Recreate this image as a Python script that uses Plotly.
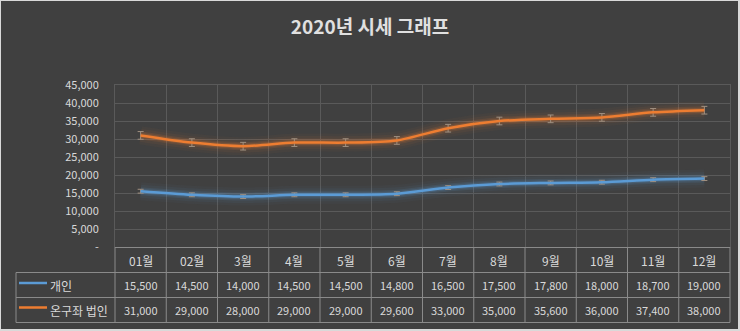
import numpy as np
import plotly.graph_objects as go

# ---------------- data ----------------
months = ["01월", "02월", "3월", "4월", "5월", "6월", "7월", "8월", "9월", "10월", "11월", "12월"]
series_names = ["개인", "온구좌 법인"]
personal = [15500, 14500, 14000, 14500, 14500, 14800, 16500, 17500, 17800, 18000, 18700, 19000]
corporate = [31000, 29000, 28000, 29000, 29000, 29600, 33000, 35000, 35600, 36000, 37400, 38000]
y_tick_vals = [0, 5000, 10000, 15000, 20000, 25000, 30000, 35000, 40000, 45000]
y_tick_text = ["-", "5,000", "10,000", "15,000", "20,000", "25,000", "30,000", "35,000", "40,000", "45,000"]
title_text = "2020년 시세 그래프"

# ---------------- layout geometry ----------------
W, H = 740, 331
L, R, T, B = 115, 10, 85, 84
PW, PH = W - L - R, H - T - B
FONT = "Noto Sans CJK KR"
BG = "#404040"
GRID = "#5a5a5a"
TABLE = "#8a8a8a"
TXT = "#d9d9d9"
BLUE = "#5b9bd5"
ORANGE = "#ed7d31"


def px(x):
    return (x - L) / PW


def py(y):
    return (H - B - y) / PH


n = len(months)
xs = list(range(n))
x_lo, x_hi = -0.5, n - 0.5


def xfrac(v):
    return (v - x_lo) / (x_hi - x_lo)


def se(vals):
    a = np.asarray(vals, dtype=float)
    return float(a.std(ddof=1) / np.sqrt(len(a)))


fig = go.Figure()

for vals, color, rgb in [(personal, BLUE, (91, 155, 213)), (corporate, ORANGE, (237, 125, 49))]:
    for w, a in [(18, 0.04), (13, 0.06), (8, 0.12), (5, 0.2)]:
        fig.add_trace(go.Scatter(
            x=xs, y=vals, mode="lines",
            line=dict(color=f"rgba({rgb[0]},{rgb[1]},{rgb[2]},{a})", width=w, shape="spline", smoothing=0.8),
            hoverinfo="skip", showlegend=False))

for vals, color, name in [(personal, BLUE, series_names[0]), (corporate, ORANGE, series_names[1])]:
    fig.add_trace(go.Scatter(
        x=xs, y=vals, mode="lines", name=name,
        line=dict(color=color, width=2.5, shape="spline", smoothing=0.8),
        error_y=dict(type="data", array=[se(vals)] * n, visible=True,
                     color="#a09080", thickness=1, width=3),
        showlegend=False))

shapes = []
# outer light frame + dark chart area
shapes.append(dict(type="rect", xref="paper", yref="paper", layer="below",
                   x0=px(1), x1=px(738), y0=py(1), y1=py(329),
                   fillcolor=BG, line=dict(width=0)))


def hline(y, x0, x1):
    shapes.append(dict(type="line", xref="paper", yref="paper",
                       x0=x0, x1=x1, y0=py(y), y1=py(y),
                       line=dict(color=TABLE, width=1)))


def vline(x, y0, y1):
    shapes.append(dict(type="line", xref="paper", yref="paper",
                       x0=x, x1=x, y0=py(y0), y1=py(y1),
                       line=dict(color=TABLE, width=1)))


hline(247.5, 0, 1)
hline(272.5, px(16), 1)
hline(297.5, px(16), 1)
hline(322.5, px(16), 1)
for k in range(n + 1):
    vline(xfrac(k - 0.5), 247.5, 322.5)
vline(px(16), 272.5, 322.5)

# legend swatches
shapes.append(dict(type="line", xref="paper", yref="paper", x0=px(19), x1=px(47),
                   y0=py(283), y1=py(283), line=dict(color=BLUE, width=2.5)))
shapes.append(dict(type="line", xref="paper", yref="paper", x0=px(19), x1=px(47),
                   y0=py(307.5), y1=py(307.5), line=dict(color=ORANGE, width=2.5)))

annotations = []
for i, m in enumerate(months):
    annotations.append(dict(x=i, xref="x", y=py(260), yref="paper", text=m, showarrow=False,
                            font=dict(family=FONT, size=12, color=TXT), yanchor="middle"))
    annotations.append(dict(x=i, xref="x", y=py(285), yref="paper", text=f"{personal[i]:,}",
                            showarrow=False, font=dict(family=FONT, size=11, color=TXT), yanchor="middle"))
    annotations.append(dict(x=i, xref="x", y=py(310), yref="paper", text=f"{corporate[i]:,}",
                            showarrow=False, font=dict(family=FONT, size=11, color=TXT), yanchor="middle"))

annotations.append(dict(x=px(48), xref="paper", y=py(285), yref="paper", text=series_names[0],
                        showarrow=False, xanchor="left", yanchor="middle",
                        font=dict(family=FONT, size=12, color=TXT)))
annotations.append(dict(x=px(48), xref="paper", y=py(310), yref="paper", text=series_names[1],
                        showarrow=False, xanchor="left", yanchor="middle",
                        font=dict(family=FONT, size=12, color=TXT)))

fig.update_layout(
    width=W, height=H,
    margin=dict(l=L, r=R, t=T, b=B),
    paper_bgcolor="#d9d9d9",
    plot_bgcolor="rgba(0,0,0,0)",
    title=dict(text=f"<b>{title_text}</b>", x=0.5, xref="container", xanchor="center",
               y=1 - 27.5 / H, yref="container", yanchor="middle",
               font=dict(family=FONT, size=19, color="#e0e0e0")),
    xaxis=dict(range=[x_lo, x_hi], tickvals=[k - 0.5 for k in range(n + 1)],
               showticklabels=False, showgrid=True, gridcolor=GRID, gridwidth=1,
               zeroline=False, showline=True, mirror=True, linecolor=GRID, ticks=""),
    yaxis=dict(range=[0, 45000], tickvals=y_tick_vals, ticktext=y_tick_text,
               showgrid=True, gridcolor=GRID, gridwidth=1, zeroline=False,
               showline=True, mirror=True, linecolor=GRID,
               ticks="outside", ticklen=13, tickcolor="rgba(0,0,0,0)",
               tickfont=dict(family=FONT, size=11, color=TXT)),
    shapes=shapes,
    annotations=annotations,
    showlegend=False,
    hovermode=False,
)

fig.write_html("out.html")
